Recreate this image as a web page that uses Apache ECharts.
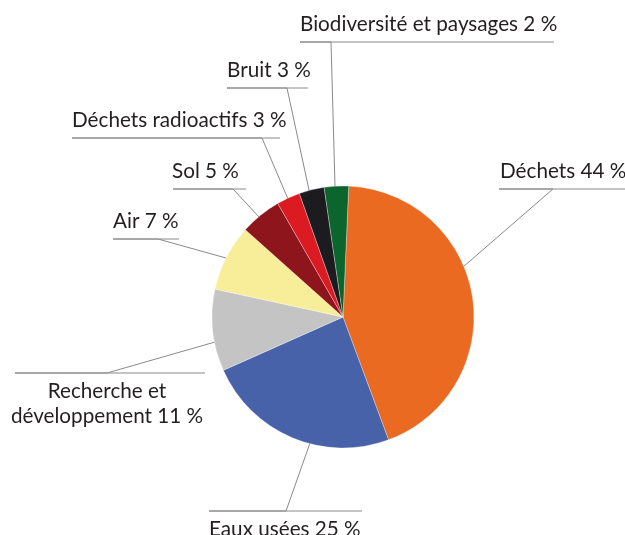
<!DOCTYPE html>
<html>
<head>
<meta charset="utf-8">
<script src="https://cdn.jsdelivr.net/npm/echarts@6/dist/echarts.min.js"></script>
<style>
html,body{margin:0;padding:0;background:#fff;}
#chart{width:625px;height:535px;}
</style>
</head>
<body>
<div id="chart"></div>
<script>
// Categories (clockwise from top)
var categories = ['Déchets', 'Eaux usées', 'Recherche et\ndéveloppement', 'Air', 'Sol', 'Déchets radioactifs', 'Bruit', 'Biodiversité et paysages'];
// Percentages printed in the labels
var labelPercents = [44, 25, 11, 7, 5, 3, 3, 2];
// Slice sizes as drawn
var sliceValues = [43.7, 24.0, 10.1, 8.2, 5.1, 2.9, 3.1, 3.0];
var colors = ['#E96A20', '#4762A8', '#C4C4C4', '#F8EE9A', '#8E151C', '#DC1A22', '#1C1B20', '#0B652C'];

// Label placement (pixels): edge point on the pie, junction x on the rule, rule y, rule x-range, text side
var labelPos = [
  {edge:[463,267], jx:553, ly:189, x0:499, x1:625, side:'above', tx:500, align:'left'},
  {edge:[310,443], jx:286, ly:511, x0:209, x1:362, side:'below', tx:209, align:'left'},
  {edge:[215,342], jx:107, ly:373, x0:15,  x1:205, side:'below', tx:107, align:'center'},
  {edge:[226,258], jx:158, ly:239, x0:113, x1:179, side:'above', tx:113, align:'left'},
  {edge:[259,217], jx:233, ly:189, x0:173, x1:246, side:'above', tx:172, align:'left'},
  {edge:[288,199], jx:262, ly:138, x0:72,  x1:280, side:'above', tx:72,  align:'left'},
  {edge:[309,190], jx:287, ly:88,  x0:227, x1:308, side:'above', tx:227, align:'left'},
  {edge:[335,186], jx:331, ly:42,  x0:300, x1:554, side:'above', tx:300, align:'left'}
];

var data = categories.map(function (c, i) {
  return { name: c, value: sliceValues[i], itemStyle: { color: colors[i] } };
});

var chart = echarts.init(document.getElementById('chart'), null, { renderer: 'canvas' });
chart.setOption({
  animation: false,
  backgroundColor: '#ffffff',
  series: [{
    type: 'pie',
    center: [343, 317],
    radius: [0, 131],
    startAngle: 87.5,
    clockwise: true,
    data: data,
    itemStyle: { borderColor: 'rgba(255,255,255,0.6)', borderWidth: 0.5 },
    label: {
      show: true,
      formatter: function (p) { return p.name + ' ' + labelPercents[p.dataIndex] + ' %'; },
      fontFamily: 'Lato',
      fontSize: 20.7,
      lineHeight: 25,
      color: '#231F20',
      overflow: 'none',
      width: 400
    },
    labelLine: { show: true, lineStyle: { color: '#8a8a8a', width: 1 } },
    labelLayout: function (params) {
      var L = labelPos[params.dataIndex];
      return {
        x: L.tx,
        y: L.side === 'above' ? L.ly - 5 : L.ly + 6,
        align: L.align,
        verticalAlign: L.side === 'above' ? 'bottom' : 'top',
        labelLinePoints: [L.edge, [L.jx, L.ly], [L.x0, L.ly], [L.x1, L.ly]]
      };
    }
  }]
});
</script>
</body>
</html>
